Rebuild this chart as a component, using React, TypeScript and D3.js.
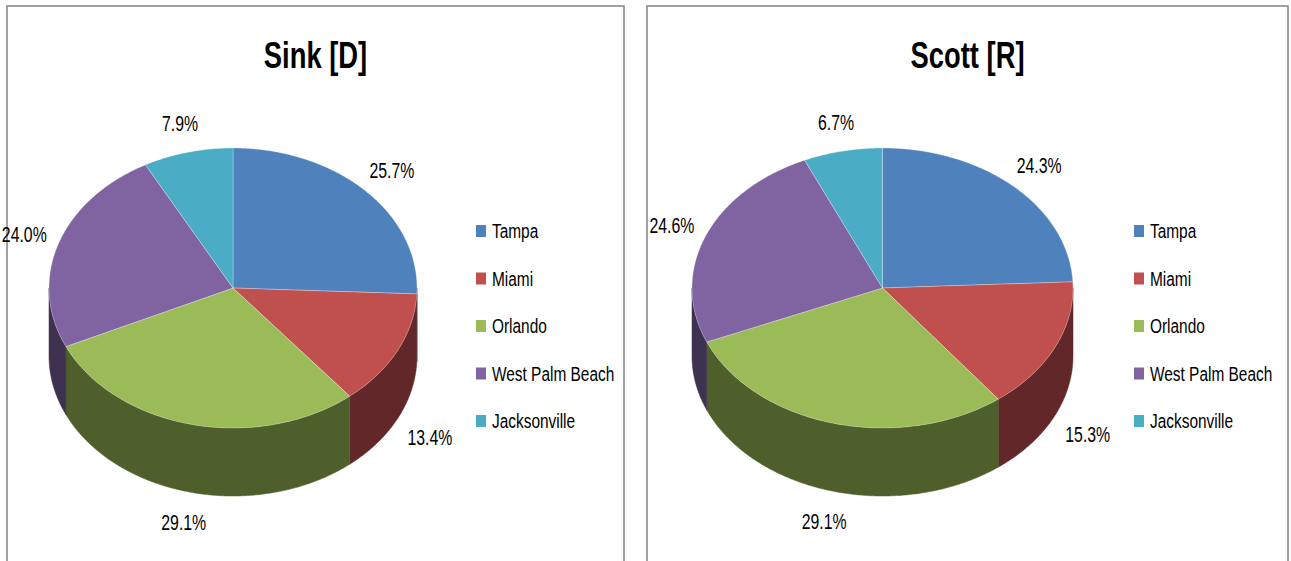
import React from "react";
import * as d3 from "d3";

const cities = ["Tampa", "Miami", "Orlando", "West Palm Beach", "Jacksonville"];
const sinkValues = [25.7, 13.4, 29.1, 24.0, 7.9];
const scottValues = [24.3, 15.3, 29.1, 24.6, 6.7];
const chartTitles = ["Sink [D]", "Scott [R]"];
const topColors = ["#4F81BD", "#C0504D", "#9BBB59", "#8064A2", "#4BACC6"];
const sideColors = ["#2C4D75", "#622728", "#4F5F2B", "#3F3150", "#215968"];

const W = 1291;
const H = 561;
const FONT = "'Liberation Sans', Arial, sans-serif";

type Layout = {
  px0: number; px1: number; cx: number; cy: number; rx: number; ry: number; depth: number;
  legendX: number;
};

const layouts: Layout[] = [
  { px0: 7, px1: 624, cx: 233, cy: 288, rx: 184, ry: 140, depth: 68, legendX: 476 },
  { px0: 647, px1: 1288, cx: 882.5, cy: 288, rx: 190.5, ry: 140, depth: 68, legendX: 1134 },
];

function PieChart3D({ values, title, L }: { values: number[]; title: string; L: Layout }) {
  const pie = d3.pie<number>().sort(null).startAngle(0).endAngle(2 * Math.PI);
  const arcs = pie(values);
  const pt = (t: number, dy = 0): [number, number] => [L.cx + L.rx * Math.sin(t), L.cy - L.ry * Math.cos(t) + dy];
  const sample = (a0: number, a1: number, dy = 0) => {
    const n = Math.max(2, Math.ceil((a1 - a0) / 0.01));
    const pts: [number, number][] = [];
    for (let i = 0; i <= n; i++) pts.push(pt(a0 + ((a1 - a0) * i) / n, dy));
    return pts;
  };
  const line = d3.line<[number, number]>().x((d) => d[0]).y((d) => d[1]);

  const sides: React.ReactNode[] = [];
  arcs.forEach((a, i) => {
    const s = Math.max(a.startAngle, Math.PI / 2);
    const e = Math.min(a.endAngle, (3 * Math.PI) / 2);
    if (e > s) {
      const topPts = sample(s, e);
      const botPts = sample(s, e, L.depth).reverse();
      sides.push(
        <path key={"s" + i} d={line([...topPts, ...botPts])! + "Z"} fill={sideColors[i]}
          stroke={sideColors[i]} strokeWidth={0.5} />
      );
    }
  });

  const tops = arcs.map((a, i) => {
    const pts: [number, number][] = [[L.cx, L.cy], ...sample(a.startAngle, a.endAngle)];
    return (
      <path key={"t" + i} d={line(pts)! + "Z"} fill={topColors[i]}
        stroke="rgba(255,255,255,0.35)" strokeWidth={0.8} strokeLinejoin="round" />
    );
  });

  const labels = arcs.map((a, i) => {
    const m = (a.startAngle + a.endAngle) / 2;
    const sn = Math.sin(m);
    const cs = Math.cos(m);
    const txt = values[i].toFixed(1) + "%";
    const hw = txt.length * 4.4;
    const hh = 8;
    const x = L.cx + sn * (L.rx + 14) + sn * hw;
    const y = cs > 0
      ? L.cy - cs * (L.ry + 22) - cs * hh
      : L.cy - cs * (L.ry + 12) - cs * hh + L.depth + 10;
    return (
      <text key={"l" + i} transform={`translate(${x},${y + 8}) scale(0.72,1)`} textAnchor="middle"
        fontFamily={FONT} fontSize={22} fill="#000">{txt}</text>
    );
  });

  const legendY = d3.scaleLinear().domain([0, cities.length - 1]).range([238, 428]);
  const legend = cities.map((c, i) => (
    <g key={"g" + i}>
      <rect x={L.legendX} y={legendY(i) - 13} width={10} height={12} fill={topColors[i]} />
      <text transform={`translate(${L.legendX + 16},${legendY(i)}) scale(0.735,1)`}
        fontFamily={FONT} fontSize={21} fill="#000">{c}</text>
    </g>
  ));

  return (
    <g>
      <rect x={L.px0} y={6} width={L.px1 - L.px0} height={H + 20} fill="#fff" stroke="#8a8a8a" strokeWidth={1.6} />
      <text transform={`translate(${(L.px0 + L.px1) / 2},68) scale(0.74,1)`} textAnchor="middle"
        fontFamily={FONT} fontWeight="bold" fontSize={37} fill="#000">{title}</text>
      {sides}
      {tops}
      {labels}
      {legend}
    </g>
  );
}

export default function App() {
  return (
    <svg width={W} height={H} style={{ position: "absolute", left: 0, top: 0, background: "#fff" }}>
      <rect x={0} y={0} width={W} height={H} fill="#fff" />
      <PieChart3D values={sinkValues} title={chartTitles[0]} L={layouts[0]} />
      <PieChart3D values={scottValues} title={chartTitles[1]} L={layouts[1]} />
    </svg>
  );
}
